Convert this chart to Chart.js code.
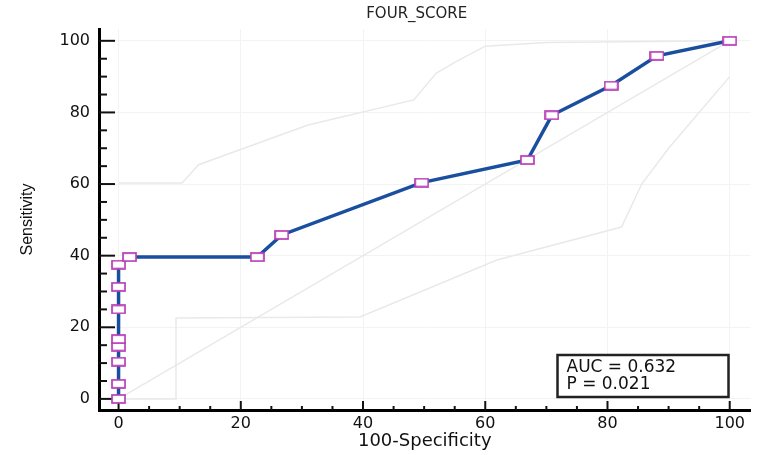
<!DOCTYPE html>
<html>
<head>
<meta charset="utf-8">
<script src="https://cdn.jsdelivr.net/npm/chart.js@4/dist/chart.umd.min.js"></script>
<style>
  html, body { margin: 0; background: #fff; }
  #wrap { width: 760px; height: 455px; }
</style>
</head>
<body>
<div id="wrap"><canvas id="roc"></canvas></div>
<script>
// ROC curve: 100-Specificity vs Sensitivity
const rocX = [0, 0, 0, 0, 0, 0, 0, 0, 1.8, 22.7, 26.7, 49.6, 66.9, 70.9, 80.6, 88.1, 100];
const rocY = [0, 4.2, 10.4, 14.6, 16.7, 25, 31.3, 37.5, 39.6, 39.6, 45.8, 60.4, 66.7, 79.2, 87.5, 95.8, 100];

// faint 95% confidence bounds
const upperX = [0, 10.4, 13.1, 31, 48.3, 52, 55, 60, 70, 100];
const upperY = [60.3, 60.3, 65.4, 76.5, 83.5, 91, 94, 98.5, 99.5, 100];
const lowerX = [0, 9.4, 9.4, 39.5, 61.9, 82.3, 85.6, 90, 100];
const lowerY = [0, 0, 22.6, 22.9, 38.8, 48, 60, 70, 90];

// reference diagonal
const diagX = [0, 100];
const diagY = [0, 100];

const xTicks = [0, 20, 40, 60, 80, 100];
const yTicks = [0, 20, 40, 60, 80, 100];
const minorStep = 5;
const chartTitle = 'FOUR_SCORE';
const statLines = ['AUC = 0.632', 'P = 0.021'];

function pts(xs, ys) {
  return xs.map((v, i) => ({ x: v, y: ys[i] }));
}

// small white rectangle with magenta border used as marker
const marker = document.createElement('canvas');
marker.width = 15;
marker.height = 10;
(function () {
  const c = marker.getContext('2d');
  c.fillStyle = '#fff';
  c.fillRect(1, 1, 13, 8);
  c.strokeStyle = '#b83cb8';
  c.lineWidth = 1.7;
  c.strokeRect(1, 1, 13, 8);
})();

const faint = {
  borderColor: '#e9e9e9',
  borderWidth: 1.5,
  pointRadius: 0,
  showLine: true,
  tension: 0
};

// inward major/minor tick marks
const tickMarks = {
  id: 'tickMarks',
  beforeDatasetsDraw(chart) {
    const { ctx, chartArea: a, scales: { x, y } } = chart;
    ctx.save();
    ctx.strokeStyle = '#111';
    ctx.lineWidth = 2;
    for (let v = xTicks[0]; v <= xTicks[xTicks.length - 1]; v += minorStep) {
      const major = xTicks.includes(v);
      const px = x.getPixelForValue(v);
      ctx.beginPath();
      ctx.moveTo(px, a.bottom);
      ctx.lineTo(px, a.bottom - (major ? 9 : 4));
      ctx.stroke();
    }
    for (let v = yTicks[0]; v <= yTicks[yTicks.length - 1]; v += minorStep) {
      const major = yTicks.includes(v);
      const py = y.getPixelForValue(v);
      ctx.beginPath();
      ctx.moveTo(a.left, py);
      ctx.lineTo(a.left + (major ? 16 : 8), py);
      ctx.stroke();
    }
    ctx.restore();
  }
};

// title centred a little left of the plot centre, AUC / P box lower right
const annotations = {
  id: 'annotations',
  afterDraw(chart) {
    const { ctx, chartArea: a } = chart;
    ctx.save();
    ctx.fillStyle = '#222';
    ctx.font = '15px "DejaVu Sans"';
    ctx.textAlign = 'center';
    ctx.textBaseline = 'middle';
    ctx.fillText(chartTitle, (a.left + a.right) / 2 - 8, 14);

    const w = 171, h = 42;
    const left = a.right - 22 - w;
    const top = a.bottom - 13 - h;
    ctx.fillStyle = '#fff';
    ctx.fillRect(left, top, w, h);
    ctx.strokeStyle = '#222';
    ctx.lineWidth = 2.5;
    ctx.strokeRect(left, top, w, h);
    ctx.fillStyle = '#111';
    ctx.font = '17px "DejaVu Sans"';
    ctx.textAlign = 'left';
    statLines.forEach((t, i) => ctx.fillText(t, left + 9, top + 13 + i * 17));
    ctx.restore();
  }
};

const tickFont = { family: 'DejaVu Sans', size: 16 };

new Chart(document.getElementById('roc').getContext('2d'), {
  type: 'scatter',
  data: {
    datasets: [
      {
        data: pts(rocX, rocY),
        showLine: true,
        borderColor: '#1a4f9f',
        borderWidth: 3.5,
        tension: 0,
        pointStyle: marker,
        pointRadius: 6
      },
      Object.assign({ data: pts(upperX, upperY) }, faint),
      Object.assign({ data: pts(lowerX, lowerY) }, faint),
      Object.assign({ data: pts(diagX, diagY) }, faint)
    ]
  },
  options: {
    responsive: true,
    maintainAspectRatio: false,
    animation: false,
    layout: { padding: { top: 29, right: 3, left: 0, bottom: 0 } },
    plugins: {
      legend: { display: false },
      tooltip: { enabled: false }
    },
    scales: {
      x: {
        type: 'linear',
        min: -3.2,
        max: 103.4,
        afterBuildTicks: s => { s.ticks = xTicks.map(v => ({ value: v })); },
        afterFit: s => { s.height = 45; },
        grid: { color: '#f3f3f3', drawTicks: false },
        border: { display: true, color: '#000', width: 3 },
        ticks: { padding: 4, color: '#111', font: tickFont, maxRotation: 0 },
        title: {
          display: true,
          text: '100-Specificity',
          color: '#111',
          font: { family: 'DejaVu Sans', size: 18 },
          padding: { top: 0, bottom: 3 }
        }
      },
      y: {
        type: 'linear',
        min: -3.1,
        max: 103.3,
        afterBuildTicks: s => { s.ticks = yTicks.map(v => ({ value: v })); },
        afterFit: s => { s.width = 99; },
        grid: { color: '#f3f3f3', drawTicks: false },
        border: { display: true, color: '#000', width: 3 },
        ticks: { padding: 9, color: '#111', font: tickFont },
        title: {
          display: true,
          text: 'Sensitivity',
          color: '#111',
          font: { family: 'Liberation Sans', size: 16 },
          padding: { top: 18, bottom: 0 }
        }
      }
    }
  },
  plugins: [tickMarks, annotations]
});
</script>
</body>
</html>
